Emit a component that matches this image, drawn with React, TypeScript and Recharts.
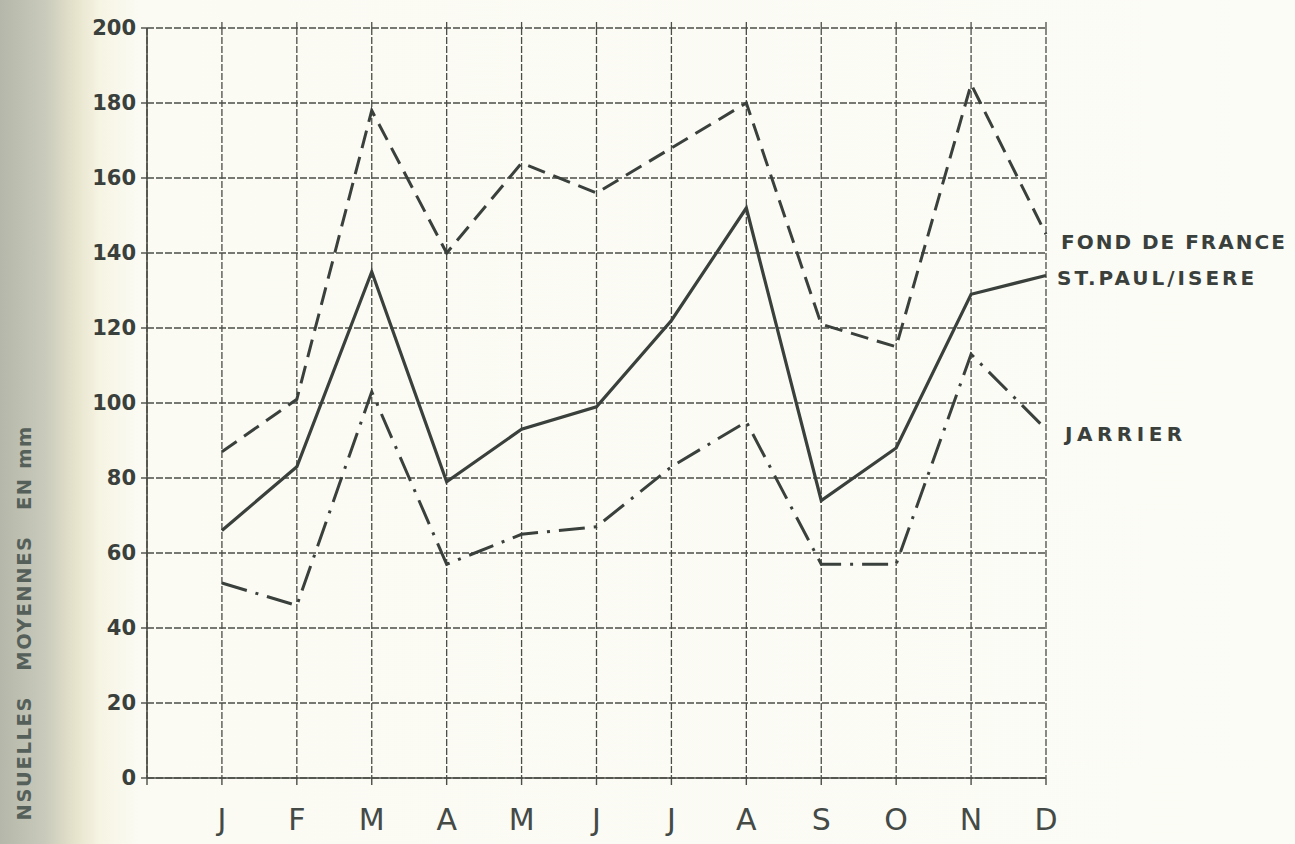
import { LineChart, Line, XAxis, YAxis, CartesianGrid } from "recharts";

const MONTHS = ["J", "F", "M", "A", "M", "J", "J", "A", "S", "O", "N", "D"];
const MONTH_NUM = [1, 2, 3, 4, 5, 6, 7, 8, 9, 10, 11, 12];
const FOND_DE_FRANCE = [87, 101, 178, 140, 164, 156, 168, 180, 121, 115, 185, 145];
const ST_PAUL = [66, 83, 135, 79, 93, 99, 122, 152, 74, 88, 129, 134];
const JARRIER = [52, 46, 103, 57, 65, 67, 83, 95, 57, 57, 113, 93];
const Y_TICKS = [0, 20, 40, 60, 80, 100, 120, 140, 160, 180, 200];
const X_TICKS = [0, 1, 2, 3, 4, 5, 6, 7, 8, 9, 10, 11, 12];

const data = MONTH_NUM.map((m, i) => ({
  m,
  fond: FOND_DE_FRANCE[i],
  paul: ST_PAUL[i],
  jarrier: JARRIER[i],
}));

const INK = "#3a403c";
const GRID = "#4b4d47";
const FONT = "'DejaVu Sans', sans-serif";

// label drawn only at the last point of a series
function endLabel(text: string, dx: number, dy: number, spacing: number) {
  return (props: any) => {
    if (props.index !== MONTHS.length - 1) return null;
    return (
      <text
        x={props.x + dx}
        y={props.y + dy}
        dominantBaseline="central"
        fill={INK}
        fontFamily={FONT}
        fontWeight="bold"
        fontSize={20}
        letterSpacing={spacing}
      >
        {text}
      </text>
    );
  };
}

export default function App() {
  return (
    <div
      style={{
        position: "fixed",
        left: 0,
        top: 0,
        width: 1295,
        height: 844,
        overflow: "hidden",
        background:
          "linear-gradient(to right, #b4b7a9 0px, #c9cabb 45px, #e6e3cc 75px, #f6f4e3 100px, #fbfbf4 140px, #fcfcf6 100%)",
      }}
    >
      <div
        style={{
          position: "absolute",
          left: 25,
          top: 425,
          transformOrigin: "0 0",
          transform: "rotate(-90deg) translate(-414px, -12px)",
          whiteSpace: "pre",
          fontFamily: FONT,
          fontWeight: "bold",
          fontSize: 19.5,
          letterSpacing: 1.6,
          color: "#56605a",
          width: 414,
          textAlign: "right",
        }}
      >
        {"NSUELLES   MOYENNES   EN mm"}
      </div>
      <LineChart
        width={1295}
        height={844}
        data={data}
        margin={{ top: 0, right: 0, bottom: 0, left: 0 }}
        style={{ position: "absolute", left: 0, top: 0 }}
      >
        <CartesianGrid
          stroke={GRID}
          strokeDasharray="7 2"
          strokeWidth={1.3}
          horizontalValues={Y_TICKS}
          verticalValues={X_TICKS}
        />
        <XAxis
          dataKey="m"
          type="number"
          domain={[0, 12]}
          ticks={X_TICKS}
          height={66}
          tickSize={7}
          tickMargin={24}
          tickFormatter={(v: number) => MONTHS[v - 1] ?? ""}
          axisLine={{ stroke: GRID, strokeWidth: 1.4 }}
          tickLine={{ stroke: GRID, strokeWidth: 1.4 }}
          tick={{ fill: "#444a46", fontSize: 30, fontFamily: FONT }}
        />
        <XAxis
          xAxisId="top"
          dataKey="m"
          type="number"
          orientation="top"
          domain={[0, 12]}
          ticks={X_TICKS.slice(1)}
          height={28}
          tickSize={6}
          axisLine={false}
          tickFormatter={() => ""}
          tickLine={{ stroke: GRID, strokeWidth: 1.3 }}
        />
        <YAxis
          type="number"
          domain={[0, 200]}
          ticks={Y_TICKS}
          width={147}
          tickSize={6}
          tickMargin={5}
          axisLine={{ stroke: GRID, strokeWidth: 1.6 }}
          tickLine={{ stroke: GRID, strokeWidth: 1.4 }}
          tick={{ fill: INK, fontSize: 21, fontWeight: "bold", fontFamily: FONT }}
        />
        <YAxis
          yAxisId="right"
          orientation="right"
          type="number"
          domain={[0, 200]}
          ticks={Y_TICKS}
          width={249}
          tickSize={9}
          axisLine={false}
          tickFormatter={() => ""}
          tickLine={{ stroke: GRID, strokeWidth: 1.3 }}
        />
        <Line
          dataKey="fond"
          stroke={INK}
          strokeWidth={3}
          strokeDasharray="18 9"
          dot={false}
          isAnimationActive={false}
          label={endLabel("FOND DE FRANCE", 15, 8, 2)}
        />
        <Line
          dataKey="paul"
          stroke={INK}
          strokeWidth={3.2}
          dot={false}
          isAnimationActive={false}
          label={endLabel("ST.PAUL/ISERE", 11, 2, 3)}
        />
        <Line
          dataKey="jarrier"
          stroke={INK}
          strokeWidth={3}
          strokeDasharray="26 9 3 9"
          dot={false}
          isAnimationActive={false}
          label={endLabel("JARRIER", 19, 5, 4.5)}
        />
      </LineChart>
    </div>
  );
}
